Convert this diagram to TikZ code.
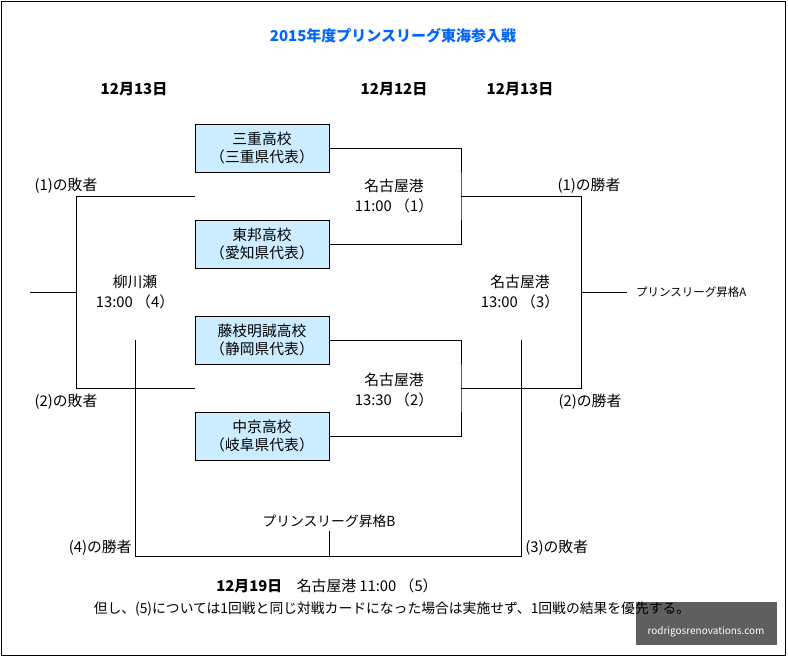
\documentclass[tikz,border=0pt]{standalone}
\usepackage{fontspec}
\setmainfont{Noto Sans CJK JP}
\definecolor{boxblue}{RGB}{204,236,255}
\definecolor{titleblue}{RGB}{0,102,255}
\definecolor{markgray}{RGB}{95,95,95}
\begin{document}
\begin{tikzpicture}[x=1pt, y=-1pt, line width=0.9pt,
    every node/.style={font=\fontsize{14.8}{19.5}\selectfont, inner sep=0pt},
    team/.style={draw, fill=boxblue, minimum width=134pt, minimum height=48pt, align=center, font=\fontsize{14.8}{18}\selectfont},
    day/.style={font=\fontsize{15}{18}\selectfont\bfseries},
    venue/.style={align=center},
    small/.style={font=\fontsize{11.5}{14}\selectfont},
    plain/.style={font=\fontsize{13.8}{16}\selectfont}]
            \useasboundingbox (0,0) rectangle (788,657);
            \draw (1.5,1.5) rectangle (785.5,655);
            \node [day, text=titleblue] (title) at (393,36) {2015年度プリンスリーグ東海参入戦};
            \node [day] (day4) at (134,89) {12月13日};
            \node [day] (day1) at (394,89) {12月12日};
            \node [day] (day3) at (520,89) {12月13日};
            \node [team] (mie) at (262,148) {三重高校\\（三重県代表）};
            \node [team] (toho) at (262,244) {東邦高校\\（愛知県代表）};
            \node [team] (fujieda) at (262,340) {藤枝明誠高校\\（静岡県代表）};
            \node [team] (chukyo) at (262,436) {中京高校\\（岐阜県代表）};
            \node [venue] (game1) at (394,196) {名古屋港\\11:00 （1）};
            \node [venue] (game2) at (394,390) {名古屋港\\13:30 （2）};
            \node [venue] (game3) at (520,292) {名古屋港\\13:00 （3）};
            \node [venue] (game4) at (135,292) {柳川瀬\\13:00 （4）};
            \node (lose1) at (66,186) {(1)の敗者};
            \node (lose2) at (66,402) {(2)の敗者};
            \node (win1) at (589,186) {(1)の勝者};
            \node (win2) at (590,402) {(2)の勝者};
            \node [anchor=east] (win4) at (132,548) {(4)の勝者};
            \node [anchor=west] (lose3) at (525,548) {(3)の敗者};
            \node [small, anchor=west, outer sep=9pt] (promoA) at (627,292) {プリンスリーグ昇格A};
            \node [plain, outer sep=4pt] (promoB) at (329,521) {プリンスリーグ昇格B};
            \coordinate (mid1) at (461,196);
            \coordinate (mid2) at (461,388);
            \coordinate (win1end) at (581,196);
            \coordinate (win2end) at (581,388);
            \coordinate (mid3) at (581,292);
            \coordinate (lose1end) at (76,196);
            \coordinate (lose2end) at (76,388);
            \coordinate (mid4) at (76,292);
            \coordinate (out4) at (30,292);
            \coordinate (top4) at (135,340);
            \coordinate (top3) at (521,340);
            \coordinate (bot4) at (135,556);
            \coordinate (bot3) at (521,556);
            \coordinate (mid5) at (329,556);
            \draw (mie.east) -| (mid1) |- (toho.east);
            \draw (fujieda.east) -| (mid2) |- (chukyo.east);
            \draw (mid1) -- (win1end) -- (win2end) -- (mid2);
            \draw (mid3) -- (promoA);
            \draw (lose1end -| mie.west) -- (lose1end) -- (lose2end) -- (lose2end -| mie.west);
            \draw (out4) -- (mid4);
            \draw (top4) -- (bot4) -- (bot3) -- (top3);
            \draw (mid5) -- (promoB);
            \node (final) at (327,586) {\textbf{12月19日}\quad 名古屋港 11:00 （5）};
            \fill [markgray] (636,602) rectangle (777,645);
            \node [text=white, font=\fontsize{10}{12}\selectfont] (mark) at (706,632) {rodrigosrenovations.com};
            \node [plain] (note) at (392,609) {但し、(5)については1回戦と同じ対戦カードになった場合は実施せず、1回戦の結果を優先する。};
        \end{tikzpicture}
\end{document}
